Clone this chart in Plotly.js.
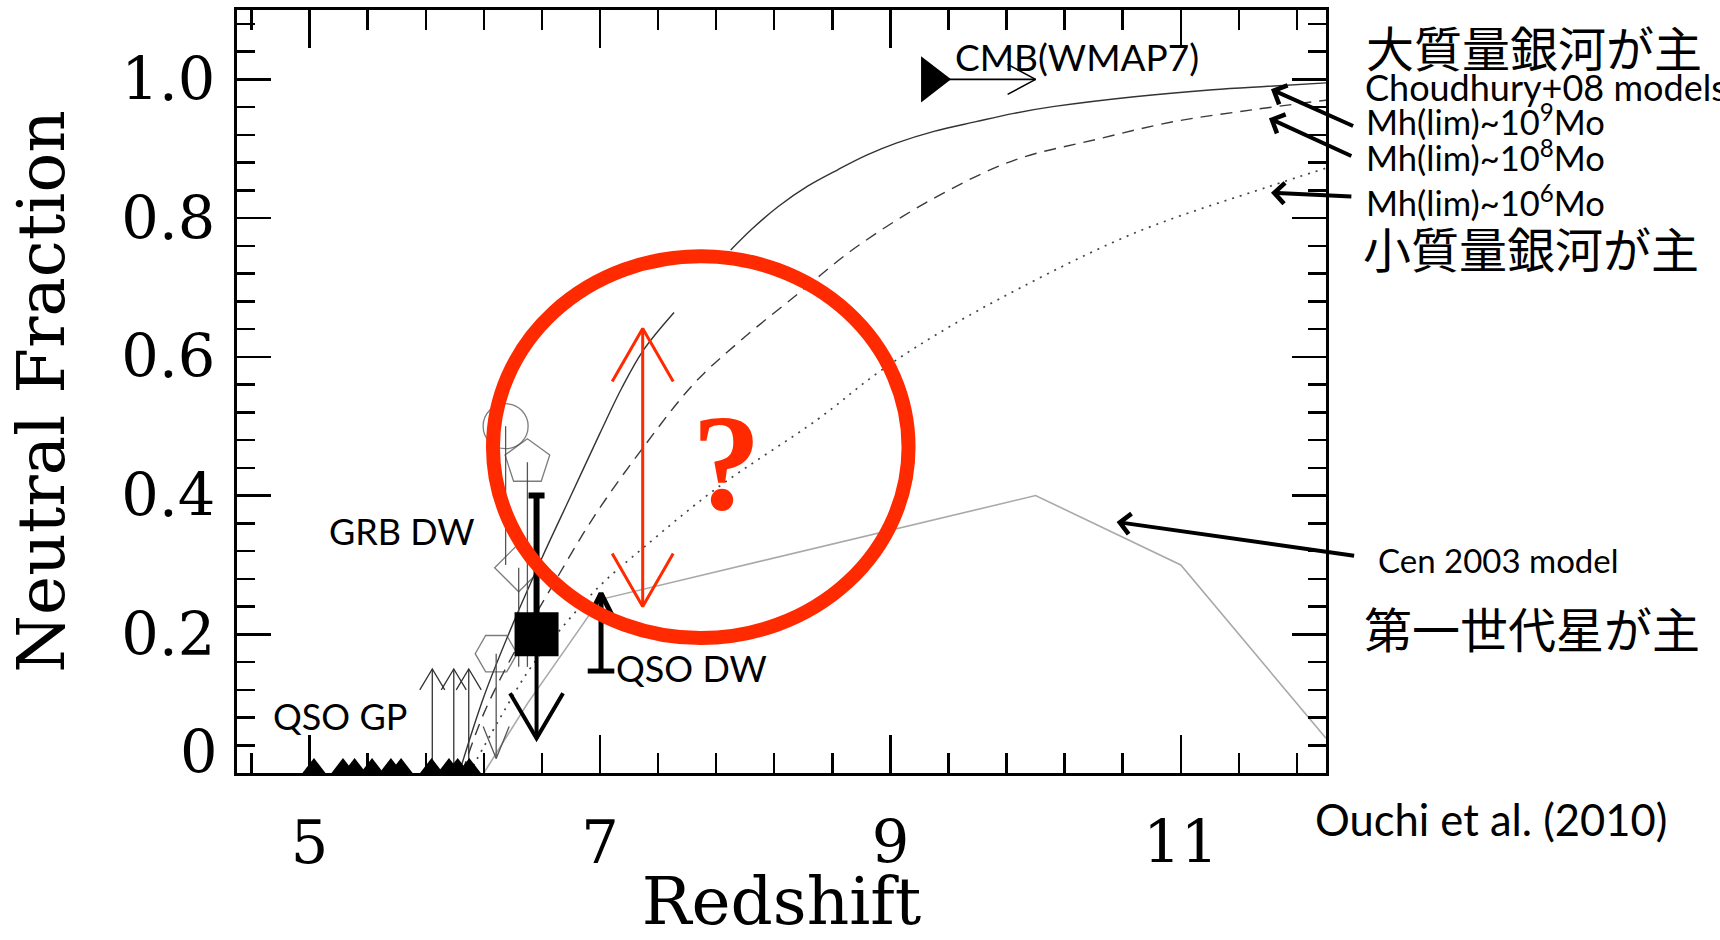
<!DOCTYPE html>
<html>
<head>
<meta charset="utf-8">
<script src="https://cdn.plot.ly/plotly-3.0.1.min.js"></script>
<style>
  html, body { margin: 0; padding: 0; background: #ffffff; }
  #chart { width: 1720px; height: 940px; }
</style>
</head>
<body>
<div id="chart"></div>
<script>
// ---------------- data ----------------
// Choudhury+08 models (neutral fraction vs redshift)
const solidZ     = [6.03, 6.2, 6.4, 6.6, 6.8, 7.0, 7.15, 7.3, 7.51, null, 7.9, 8.05, 8.23, 8.43, 8.64, 8.84, 9.04, 9.3, 9.59, 9.85, 10.13, 10.68, 11.22, 11.6, 12.0];
const solidFrac  = [0.0, 0.11, 0.215, 0.31, 0.40, 0.49, 0.555, 0.61, 0.664, null, 0.754, 0.785, 0.817, 0.846, 0.870, 0.891, 0.908, 0.925, 0.939, 0.951, 0.961, 0.975, 0.985, 0.990, 0.995];
const dashedZ    = [6.05, 6.2, 6.43, 6.67, 6.96, 7.3, 7.65, 7.96, 8.37, 8.77, 9.32, 9.86, 10.41, 10.95, 11.49, 12.0];
const dashedFrac = [0.0, 0.086, 0.182, 0.269, 0.37, 0.47, 0.562, 0.622, 0.692, 0.759, 0.831, 0.884, 0.913, 0.939, 0.956, 0.970];
const dottedZ    = [6.1, 6.3, 6.5, 6.7, 7.0, 7.3, 7.8, 8.5, 8.9, 9.3, 9.9, 10.7, 11.6, 12.0];
const dottedFrac = [0.0, 0.075, 0.145, 0.20, 0.27, 0.325, 0.41, 0.51, 0.575, 0.63, 0.70, 0.78, 0.845, 0.872];
// Cen 2003 model
const cenZ    = [6.2, 6.5, 7.0, 10.0, 11.0, 12.0];
const cenFrac = [0.0, 0.10, 0.25, 0.40, 0.30, 0.05];
// QSO Gunn-Peterson points and lower limits
const gpZ       = [5.03, 5.23, 5.31, 5.43, 5.56, 5.63, 5.84, 5.96, 6.02, 6.10];
const gpFrac    = [0, 0, 0, 0, 0, 0, 0, 0, 0, 0];
const gpLimZ    = [5.845, 5.993, 6.096];
const gpLimFrom = [0, 0, 0];
const gpLimTo   = [0.15, 0.15, 0.15];
// other constraints (open symbols) with lines down to their lower ends
const lyaZ      = [6.35, 6.50, 6.44, 6.285];
const lyaFrac   = [0.50, 0.448, 0.296, 0.172];
const lyaLow    = [0.30, 0.153, 0.153, 0.021];
// GRB damping wing
const grbZ      = [6.563];
const grbFrac   = [0.20];
const grbHigh   = [0.40];
const grbLow    = [0.05];
// QSO damping wing
const qsoDwZ    = [7.007];
const qsoDwFrac = [0.147];
const qsoDwHigh = [0.259];
// CMB (WMAP7)
const cmbZ      = [9.28];
const cmbFrac   = [1.0];
const cmbZHigh  = [10.0];
// red "?" range
const qRangeZ    = [7.294];
const qRangeLow  = [0.24];
const qRangeHigh = [0.641];

// ticks and labels
const xTickVals = [5, 7, 9, 11];
const xTickText = ['5', '7', '9', '11'];
const yTickVals = [0, 0.2, 0.4, 0.6, 0.8, 1.0];
const yTickText = ['', '0.2', '0.4', '0.6', '0.8', '1.0'];
const yZeroLabel = '0';
const xTitle = 'Redshift';
const yTitle = 'Neutral Fraction';
const labelQsoGp = 'QSO GP';
const labelGrbDw = 'GRB DW';
const labelQsoDw = 'QSO DW';
const labelCmb = 'CMB(WMAP7)';
const labelQuestion = '?';
const labelMassive = '大質量銀河が主';
const labelChoudhury = 'Choudhury+08 models';
const labelMh9 = 'Mh(lim)~10<sup>9</sup>Mo';
const labelMh8 = 'Mh(lim)~10<sup>8</sup>Mo';
const labelMh6 = 'Mh(lim)~10<sup>6</sup>Mo';
const labelSmall = '小質量銀河が主';
const labelCen = 'Cen 2003 model';
const labelPop3 = '第一世代星が主';
const labelRef = 'Ouchi et al. (2010)';

// ---------------- geometry helpers (style sizes in px) ----------------
const W = 1720, H = 940;
const MARGIN = { l: 237, r: 394, t: 10, b: 167 };
const XR = [4.5, 12], YR = [0, 1.1];
const PXX = (W - MARGIN.l - MARGIN.r) / (XR[1] - XR[0]);
const PXY = (H - MARGIN.t - MARGIN.b) / (YR[1] - YR[0]);

// open "V" arrow head at (x1,y1) for an arrow coming from (x0,y0)
function head(x0, y0, x1, y1, back, half) {
  const dx = (x1 - x0) * PXX, dy = (y1 - y0) * PXY;
  const L = Math.hypot(dx, dy);
  const ux = dx / L, uy = dy / L, px = -uy, py = ux;
  return {
    x: [x1 + (-back * ux + half * px) / PXX, x1, x1 + (-back * ux - half * px) / PXX],
    y: [y1 + (-back * uy + half * py) / PXY, y1, y1 + (-back * uy - half * py) / PXY]
  };
}
function arrowTrace(tails, tips, back, half, color, width, both) {
  const xs = [], ys = [];
  tails.forEach((t, i) => {
    const p = tips[i];
    xs.push(t[0], p[0], null); ys.push(t[1], p[1], null);
    const h = head(t[0], t[1], p[0], p[1], back, half);
    xs.push(...h.x, null); ys.push(...h.y, null);
    if (both) {
      const h2 = head(p[0], p[1], t[0], t[1], back, half);
      xs.push(...h2.x, null); ys.push(...h2.y, null);
    }
  });
  return { type: 'scatter', mode: 'lines', x: xs, y: ys, hoverinfo: 'skip',
           line: { color: color, width: width }, showlegend: false };
}

const traces = [];
// Cen 2003
traces.push({ type: 'scatter', mode: 'lines', x: cenZ, y: cenFrac,
  line: { color: '#a9a9a9', width: 1.6 }, hoverinfo: 'skip' });
// Choudhury models
traces.push({ type: 'scatter', mode: 'lines', x: solidZ, y: solidFrac,
  line: { color: '#333333', width: 1.4, shape: 'spline', smoothing: 1 }, hoverinfo: 'skip' });
traces.push({ type: 'scatter', mode: 'lines', x: dashedZ, y: dashedFrac,
  line: { color: '#3a3a3a', width: 1.4, dash: '12px,8px', shape: 'spline', smoothing: 1 }, hoverinfo: 'skip' });
traces.push({ type: 'scatter', mode: 'lines', x: dottedZ, y: dottedFrac,
  line: { color: '#444444', width: 1.7, dash: '2px,6px', shape: 'spline', smoothing: 1 }, hoverinfo: 'skip' });

// QSO GP lower-limit arrows
traces.push(arrowTrace(gpLimZ.map((z, i) => [z, gpLimFrom[i]]), gpLimZ.map((z, i) => [z, gpLimTo[i]]),
  21, 12.5, '#333333', 1.3, false));
// QSO GP points
traces.push({ type: 'scatter', mode: 'markers', x: gpZ, y: gpFrac,
  marker: { symbol: 'triangle-up', size: 30, color: 'black' }, hoverinfo: 'skip' });

// open symbols with their lines
traces.push({ type: 'scatter', mode: 'markers', x: lyaZ, y: lyaFrac,
  marker: { symbol: ['circle-open', 'pentagon-open', 'diamond-open', 'hexagon2-open'],
            size: [45, 47, 37, 42], color: '#444444', line: { color: '#444444', width: 1.3 } },
  error_y: { type: 'data', symmetric: false, array: [0, 0, 0, 0],
             arrayminus: lyaFrac.map((v, i) => v - lyaLow[i]), width: 0, thickness: 1.3, color: '#555555' },
  hoverinfo: 'skip' });
// hexagon upper-limit head
(function () {
  const h = head(lyaZ[3], lyaFrac[3], lyaZ[3], lyaLow[3], 32, 13);
  traces.push({ type: 'scatter', mode: 'lines', x: h.x, y: h.y, line: { color: '#555555', width: 1.3 }, hoverinfo: 'skip' });
})();

// GRB damping wing: down arrow, error bar, square
traces.push(arrowTrace([[grbZ[0], grbFrac[0]]], [[grbZ[0], grbLow[0]]], 45, 26.5, 'black', 4, false));
traces.push({ type: 'scatter', mode: 'markers', x: grbZ, y: grbFrac,
  marker: { symbol: 'square', size: 44, color: 'black' },
  error_y: { type: 'data', symmetric: false, array: [grbHigh[0] - grbFrac[0]], arrayminus: [0],
             width: 8, thickness: 6, color: 'black' },
  hoverinfo: 'skip' });

// QSO damping wing: up arrow with base bar
traces.push(arrowTrace([[qsoDwZ[0], qsoDwFrac[0]]], [[qsoDwZ[0], qsoDwHigh[0]]], 22, 11, 'black', 5, false));
traces.push({ type: 'scatter', mode: 'markers', x: qsoDwZ, y: qsoDwFrac,
  marker: { symbol: 'line-ew', size: 19, color: 'black', line: { color: 'black', width: 5 } }, hoverinfo: 'skip' });

// CMB lower limit
traces.push(arrowTrace([[cmbZ[0], cmbFrac[0]]], [[cmbZHigh[0], cmbFrac[0]]], 28, 15, 'black', 1.6, false));
traces.push({ type: 'scatter', mode: 'markers', x: cmbZ, y: cmbFrac, cliponaxis: false,
  marker: { symbol: 'triangle-right', size: 40, color: 'black' }, hoverinfo: 'skip' });

// red double arrow
traces.push(arrowTrace([[qRangeZ[0], qRangeLow[0]]], [[qRangeZ[0], qRangeHigh[0]]], 53, 30.5, '#ff2a00', 3, true));

const serif = 'DejaVu Serif, Liberation Serif, serif';
const sans = 'Lato, Open Sans, Liberation Sans, sans-serif';
const cjk = 'Noto Sans CJK JP, Noto Sans CJK SC, sans-serif';

function ptr(x, y, ax, ay) {
  return { x: x, y: y, ax: ax, ay: ay, xref: 'x', yref: 'y', axref: 'x', ayref: 'y',
           text: '', showarrow: true, arrowhead: 4, arrowsize: 1, arrowwidth: 4, arrowcolor: 'black' };
}

const annotations = [
  { text: yZeroLabel, xref: 'paper', yref: 'y', x: -0.016, y: 0, xanchor: 'right', yanchor: 'middle', yshift: 21,
    showarrow: false, font: { family: serif, size: 59, color: 'black' } },
  { text: labelQsoGp, xref: 'x', yref: 'y', x: 5.206, y: 0.082, showarrow: false, font: { family: sans, size: 36, color: 'black' } },
  { text: labelGrbDw, xref: 'x', yref: 'y', x: 5.639, y: 0.349, showarrow: false, font: { family: sans, size: 36, color: 'black' } },
  { text: labelQsoDw, xref: 'x', yref: 'y', x: 7.628, y: 0.151, showarrow: false, font: { family: sans, size: 36, color: 'black' } },
  { text: labelCmb, xref: 'x', yref: 'y', x: 10.282, y: 1.033, showarrow: false, font: { family: sans, size: 37, color: 'black' } },
  { text: labelQuestion, xref: 'x', yref: 'y', x: 7.87, y: 0.447, showarrow: false,
    font: { family: 'Liberation Serif, serif', size: 138, color: '#ff2a00', weight: 'bold' } },
  { text: labelMassive, xref: 'paper', yref: 'paper', x: 1.0345, y: 0.953, xanchor: 'left', yanchor: 'middle',
    showarrow: false, font: { family: cjk, size: 48, color: 'black' } },
  { text: labelChoudhury, xref: 'paper', yref: 'paper', x: 1.034, y: 0.899, xanchor: 'left', yanchor: 'middle',
    showarrow: false, font: { family: sans, size: 36, color: 'black' } },
  { text: labelMh9, xref: 'paper', yref: 'paper', x: 1.0345, y: 0.857, xanchor: 'left', yanchor: 'middle',
    showarrow: false, font: { family: sans, size: 34.5, color: 'black' } },
  { text: labelMh8, xref: 'paper', yref: 'paper', x: 1.0345, y: 0.8087, xanchor: 'left', yanchor: 'middle',
    showarrow: false, font: { family: sans, size: 34.5, color: 'black' } },
  { text: labelMh6, xref: 'paper', yref: 'paper', x: 1.0345, y: 0.7497, xanchor: 'left', yanchor: 'middle',
    showarrow: false, font: { family: sans, size: 34.5, color: 'black' } },
  { text: labelSmall, xref: 'paper', yref: 'paper', x: 1.0325, y: 0.6894, xanchor: 'left', yanchor: 'middle',
    showarrow: false, font: { family: cjk, size: 48, color: 'black' } },
  { text: labelCen, xref: 'paper', yref: 'paper', x: 1.0455, y: 0.2798, xanchor: 'left', yanchor: 'middle',
    showarrow: false, font: { family: sans, size: 33, color: 'black' } },
  { text: labelPop3, xref: 'paper', yref: 'paper', x: 1.0335, y: 0.1914, xanchor: 'left', yanchor: 'middle',
    showarrow: false, font: { family: cjk, size: 48, color: 'black' } },
  { text: labelRef, xref: 'paper', yref: 'paper', x: 0.9885, y: -0.0603, xanchor: 'left', yanchor: 'middle',
    showarrow: false, font: { family: sans, size: 43.5, color: 'black' } },
  ptr(11.621, 0.9857, 12.197, 0.9318),
  ptr(11.607, 0.9439, 12.185, 0.8886),
  ptr(11.621, 0.8367, 12.185, 0.8309),
  ptr(10.558, 0.3619, 12.204, 0.3129)
];

const shapes = [
  { type: 'circle', xref: 'x', yref: 'y', x0: 6.263, x1: 9.125, y0: 0.1946, y1: 0.745,
    line: { color: '#ff2a00', width: 14 }, fillcolor: 'rgba(0,0,0,0)', layer: 'above' }
];

const axisCommon = {
  ticks: 'inside', tickcolor: 'black', tickwidth: 2.5,
  showline: true, linecolor: 'black', linewidth: 3, mirror: 'ticks',
  showgrid: false, zeroline: false,
  tickfont: { family: serif, size: 59, color: 'black' }
};

const layout = {
  width: W, height: H,
  margin: { l: MARGIN.l, r: MARGIN.r, t: MARGIN.t, b: MARGIN.b, pad: 0 },
  paper_bgcolor: 'white', plot_bgcolor: 'white',
  showlegend: false, hovermode: false,
  xaxis: Object.assign({}, axisCommon, {
    range: XR, tickmode: 'array', tickvals: xTickVals, ticktext: xTickText, ticklen: 38,
    ticklabelstandoff: 16,
    minor: { tickmode: 'linear', tick0: 5, dtick: 0.4, ticks: 'inside', ticklen: 20, tickwidth: 2.5, tickcolor: 'black', showgrid: false },
    title: { text: xTitle, font: { family: serif, size: 66, color: 'black' }, standoff: 50 }
  }),
  yaxis: Object.assign({}, axisCommon, {
    range: YR, tickmode: 'array', tickvals: yTickVals, ticktext: yTickText, ticklen: 34,
    ticklabelstandoff: 7,
    minor: { tickmode: 'linear', tick0: 0, dtick: 0.04, ticks: 'inside', ticklen: 18, tickwidth: 2.5, tickcolor: 'black', showgrid: false },
    title: { text: yTitle, font: { family: serif, size: 66, color: 'black' }, standoff: 36 }
  }),
  annotations: annotations,
  shapes: shapes
};

Plotly.newPlot('chart', traces, layout, { staticPlot: true, displayModeBar: false });
</script>
</body>
</html>
